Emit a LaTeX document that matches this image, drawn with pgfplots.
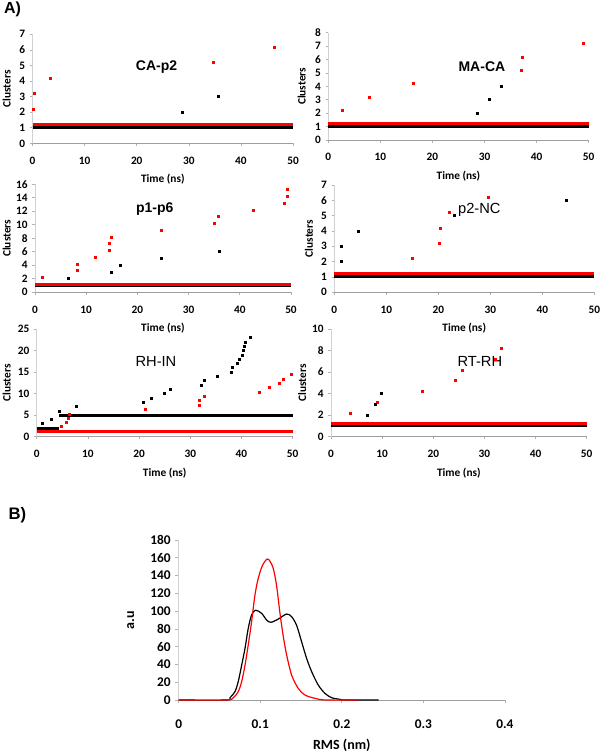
\documentclass[border=0pt]{standalone}
\usepackage{pgfplots}
\pgfplotsset{compat=1.18}
\usepackage{fontspec}
\setmainfont{Liberation Sans}
\newfontfamily\calib{Carlito}
\pgfplotsset{
  panel/.style={
    scale only axis, anchor=south west,
    axis lines*=left,
    xmin=0, xmax=50, ymin=0,
    xtick={0,10,20,30,40,50},
    tick align=outside,
    major tick length=2pt,
    x axis line style={draw=gray!75, line width=0.6pt},
    y axis line style={draw=gray!35, line width=0.6pt},
    every tick/.style={draw=gray!60, line width=0.5pt},
    tick label style={font=\calib\fontsize{8.5}{10}\selectfont\bfseries},
    /pgf/number format/assume math mode=true,
    xticklabel style={yshift=-4.5pt},
    xlabel={Time (ns)}, ylabel={Clusters},
    every axis x label/.style={at={(axis description cs:0.5,0)}, anchor=center, yshift=-27pt,
       font=\calib\fontsize{8.5}{10}\selectfont\bfseries},
    every axis y label/.style={at={(axis description cs:0,0.5)}, anchor=center, xshift=-#1, rotate=90,
       font=\calib\fontsize{8.5}{10}\selectfont\bfseries},
    clip=false,
  },
  redpts/.style={only marks, mark=square*, mark size=0.75pt, color=red, mark options={draw=red, fill=red}},
  blkpts/.style={only marks, mark=square*, mark size=0.75pt, color=black, mark options={draw=black, fill=black}},
  hlr/.style={line width=2.3pt, no marks, color=red},
  hlb/.style={line width=2.3pt, no marks, color=black},
}
\tikzset{
  ttl/.style={font=\fontsize{10.5}{12}\selectfont\bfseries, anchor=center},
  ttr/.style={font=\fontsize{11}{12}\selectfont, anchor=center},
}
\begin{document}
\begin{tikzpicture}
\useasboundingbox (0,0) rectangle (450pt,567pt);
\node[font=\fontsize{12}{14}\selectfont\bfseries] at (9.4pt,560.2pt) {A)};
\node[font=\fontsize{12.5}{14}\selectfont\bfseries] at (13.1pt,180.4pt) {B)};

% ---------- CA-p2
\begin{axis}[panel=19.4pt, at={(24.4pt,459.5pt)}, width=195.4pt, height=81.75pt,
  ymax=7, ytick={0,1,...,7}]
\addplot[hlb] coordinates {(0,1) (50,1)};
\addplot[hlr] coordinates {(0,1.2) (50,1.2)};
\addplot[redpts] coordinates {(0.1,2.2) (0.3,3.2) (3.4,4.2) (34.7,5.2) (46.4,6.2)};
\addplot[blkpts] coordinates {(28.7,2) (35.6,3)};
\node[ttl] at (axis cs:23.8,4.9) {CA-p2};
\end{axis}

% ---------- MA-CA
\begin{axis}[panel=20pt, at={(246.2pt,462pt)}, width=195.3pt, height=80.5pt,
  ymax=8, ytick={0,1,...,8}]
\addplot[hlb] coordinates {(0,1) (50,1)};
\addplot[hlr] coordinates {(0,1.2) (50,1.2)};
\addplot[redpts] coordinates {(2.6,2.2) (7.9,3.2) (16.3,4.2) (37.1,5.2) (37.2,6.2) (49.0,7.2)};
\addplot[blkpts] coordinates {(28.6,2) (31.0,3) (33.3,4)};
\node[ttl] at (axis cs:29.5,5.5) {MA-CA};
\end{axis}

% ---------- p1-p6
\begin{axis}[panel=21.2pt, at={(26.25pt,347.8pt)}, width=192pt, height=81pt,
  ymax=16, ytick={0,2,...,16}]
\addplot[hlb] coordinates {(0,1) (50,1)};
\addplot[hlr] coordinates {(0,1.2) (50,1.2)};
\addplot[redpts] coordinates {(1.4,2.2) (8.3,3.2) (8.3,4.2) (11.8,5.2) (14.6,6.2) (14.6,7.2) (14.8,8.2) (24.7,9.2) (35.0,10.2) (35.7,11.2) (42.6,12.2) (48.6,13.2) (49.2,14.2) (49.3,15.2)};
\addplot[blkpts] coordinates {(6.5,2) (14.8,3) (16.6,4) (24.7,5) (36.0,6)};
\node[ttl] at (axis cs:23.4,12.3) {p1-p6};
\end{axis}

% ---------- p2-NC
\begin{axis}[panel=19pt, at={(250.7pt,347.8pt)}, width=195pt, height=80.5pt,
  ymax=7, ytick={0,1,...,7}]
\addplot[hlb] coordinates {(0,1) (50,1)};
\addplot[hlr] coordinates {(0,1.2) (50,1.2)};
\addplot[redpts] coordinates {(15.0,2.2) (20.1,3.2) (20.3,4.2) (22.2,5.2) (29.6,6.2)};
\addplot[blkpts] coordinates {(1.3,2) (1.3,3) (4.7,4) (23.1,5) (44.7,6)};
\node[ttr] at (axis cs:27.9,5.4) {p2-NC};
\end{axis}

% ---------- RH-IN
\begin{axis}[panel=22.5pt, at={(27.5pt,239.5pt)}, width=192pt, height=80.8pt,
  ymax=25, ytick={0,5,...,25}]
\addplot[hlb] coordinates {(0,2) (4.4,2)};
\addplot[hlb] coordinates {(4.4,5) (50,5)};
\addplot[hlr] coordinates {(0,1.2) (50,1.2)};
\addplot[redpts] coordinates {(4.9,2.3) (5.7,3.3) (6.2,4.3) (6.3,5.3) (21.2,6.3) (31.8,7.3) (31.8,8.4) (32.7,9.4) (43.5,10.4) (45.4,11.4) (47.3,12.4) (48.1,13.4) (49.8,14.4)};
\addplot[blkpts] coordinates {(1.1,3) (2.9,4) (4.4,6) (7.7,7) (20.8,8) (22.3,9) (25.0,10) (26.0,11) (32.1,12) (32.7,13) (35.2,14) (38.0,15) (38.2,16) (39.2,17) (39.5,18) (40.2,19) (40.4,20) (40.6,21) (40.8,22) (41.8,23)};
\node[ttr] at (axis cs:23.3,17.4) {RH-IN};
\end{axis}

% ---------- RT-RH
\begin{axis}[panel=21.7pt, at={(248.25pt,239.5pt)}, width=191.8pt, height=80.8pt,
  ymax=10, ytick={0,2,...,10}]
\addplot[hlb] coordinates {(0,1) (50,1)};
\addplot[hlr] coordinates {(0,1.2) (50,1.2)};
\addplot[redpts] coordinates {(3.7,2.2) (9.1,3.2) (17.8,4.2) (24.2,5.2) (25.6,6.2) (32.2,7.2) (33.2,8.2)};
\addplot[blkpts] coordinates {(7.0,2) (8.7,3) (9.8,4)};
\node[ttr] at (axis cs:29.1,7.0) {RT-RH};
\end{axis}

% ---------- B
\begin{axis}[scale only axis, anchor=south west, at={(134pt,42pt)}, width=244.7pt, height=120pt,
  axis lines*=left, xmin=0, xmax=0.4, ymin=0, ymax=180,
  xtick={0,0.1,0.2,0.3,0.4}, ytick={0,20,...,180},
  tick align=outside, major tick length=2.5pt,
  x axis line style={draw=gray!75, line width=0.6pt},
  y axis line style={draw=gray!35, line width=0.6pt},
  every tick/.style={draw=gray!60, line width=0.5pt},
  tick label style={font=\calib\fontsize{10}{12}\selectfont\bfseries},
  /pgf/number format/assume math mode=true,
  xticklabel style={yshift=-9pt},
  xlabel={RMS (nm)}, ylabel={a.u},
  every axis x label/.style={at={(axis description cs:0.5,0)}, anchor=center, yshift=-34pt,
     font=\calib\fontsize{10.5}{12}\selectfont\bfseries},
  every axis y label/.style={at={(axis description cs:0,0.5)}, anchor=center, xshift=-36pt, rotate=90,
     font=\calib\fontsize{10.5}{12}\selectfont\bfseries},
  clip=false]
\addplot[black, line width=0.9pt, smooth, tension=0.5] coordinates {
(0,0) (0.058,0) (0.0629,2.6) (0.069,9.4) (0.073,20.6) (0.0772,39) (0.0813,58) (0.0853,80.6) (0.0894,95.6) (0.0943,101) (0.1017,97.5) (0.1078,90) (0.1131,87.4) (0.122,91) (0.1323,96.7) (0.1385,93.7) (0.1446,84) (0.1507,65.6) (0.1568,47) (0.163,32) (0.171,17) (0.1793,7.5) (0.1875,2.6) (0.198,0.7) (0.205,0) (0.245,0)};
\addplot[red, line width=0.9pt, smooth, tension=0.5] coordinates {
(0,0) (0.058,0) (0.067,2.6) (0.073,9.4) (0.0772,20.6) (0.0813,39) (0.0853,62) (0.0894,88) (0.0935,118) (0.0976,137) (0.1030,152) (0.1086,158.6) (0.112,156) (0.116,148) (0.120,129) (0.124,99) (0.128,73) (0.1324,50.6) (0.1385,28) (0.1466,13) (0.1548,5.6) (0.167,1.9) (0.18,0) (0.22,0)};
\end{axis}
\end{tikzpicture}
\end{document}
